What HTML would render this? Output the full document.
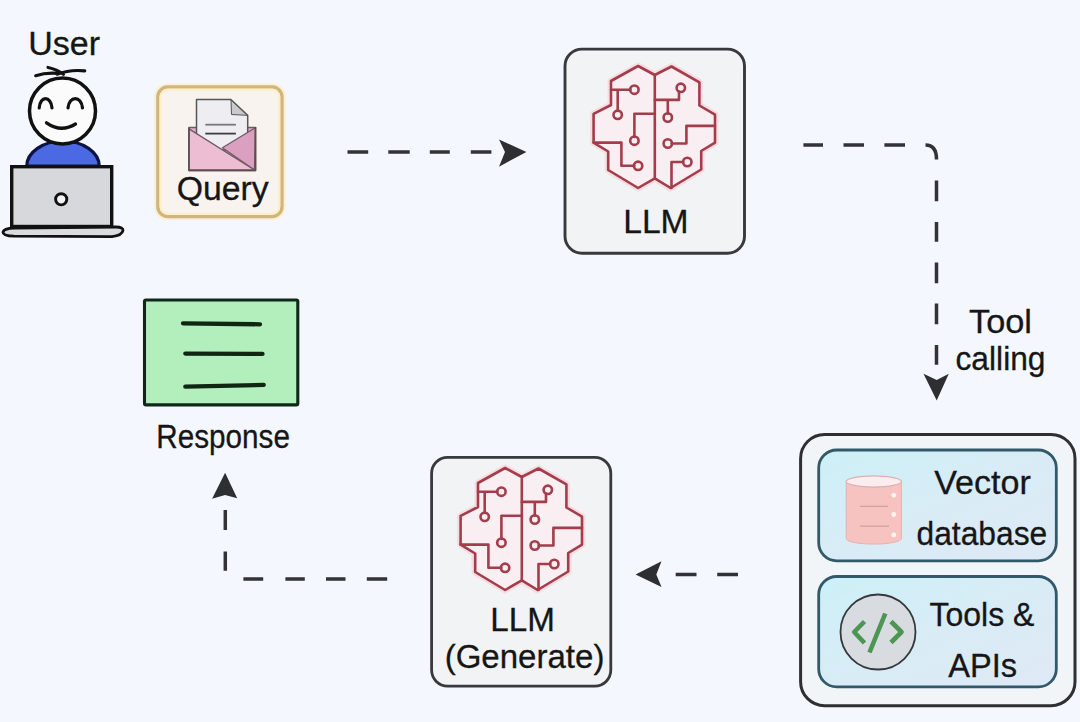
<!DOCTYPE html>
<html><head><meta charset="utf-8">
<style>
html,body{margin:0;padding:0;width:1080px;height:722px;overflow:hidden;background:#f4f7fd;}
svg{position:absolute;left:0;top:0;}
text{font-family:"Liberation Sans",sans-serif;fill:#161616;stroke:#161616;stroke-width:0.3px;}
</style></head><body>
<svg width="1080" height="722" viewBox="0 0 1080 722">
<defs>
  <linearGradient id="ib" x1="0" y1="0" x2="1" y2="1"><stop offset="0" stop-color="#ccf0f7"/><stop offset="0.5" stop-color="#d8ecf6"/><stop offset="1" stop-color="#dfe9f6"/></linearGradient>
  <g id="brain" fill="none" stroke="#a43c4b" stroke-width="2.6" stroke-linejoin="round" stroke-linecap="round">
    <path d="M50.1 6 L66.8 15 L83.5 6.5 L111.4 22.3 L111.4 45.5 L127 54.7 L127 82.6 L113.2 91 L113.2 109.5 L82.6 128 L66.8 118.3 L50.1 128 L20.2 110 L20.2 91.5 L5.6 82.6 L5.6 53.8 L23 45 L23 21 Z" fill="#f9eef1" stroke="#f5dde2" stroke-width="7"/>
    <path d="M50.1 6 L66.8 15 L83.5 6.5 L111.4 22.3 L111.4 45.5 L127 54.7 L127 82.6 L113.2 91 L113.2 109.5 L82.6 128 L66.8 118.3 L50.1 128 L20.2 110 L20.2 91.5 L5.6 82.6 L5.6 53.8 L23 45 L23 21 Z" fill="#f9eef1"/>
    <path d="M66.8 15 L66.8 118.3"/>
    <path d="M23 29.7 H42.3 M29.7 29.7 V50.6"/>
    <circle cx="46.4" cy="29.7" r="4.2"/><circle cx="29.7" cy="54.8" r="4.2"/>
    <path d="M46.4 77 V53.8 H66.8"/>
    <circle cx="46.4" cy="80.7" r="4.2"/>
    <path d="M46.3 105.8 H33.4 V82.6 H5.6"/>
    <circle cx="50.1" cy="105.8" r="4.2"/>
    <path d="M66.8 39.9 H91 V31.6 M79.8 39.9 V53.7"/>
    <circle cx="92.8" cy="27.8" r="4.2"/><circle cx="79.8" cy="57.5" r="4.2"/>
    <path d="M83.6 83.5 H98.4 V65.9 H127"/>
    <circle cx="79.8" cy="83.5" r="4.2"/>
    <path d="M95.1 102 H83.5 V128"/>
    <circle cx="99.3" cy="102" r="4.2"/>
  </g>
</defs>

<!-- USER -->
<text x="28.2" y="55.1" font-size="33" textLength="71.8" lengthAdjust="spacingAndGlyphs">User</text>
<path d="M26.8 166 A36.2 25 0 0 1 99.2 166 Z" fill="#4b69e2" stroke="#0d1445" stroke-width="3.2"/>
<circle cx="62.5" cy="111" r="33" fill="#fbfbfb" stroke="#111" stroke-width="3.5"/>
<path d="M35.7 75.7 Q46 72.3 58 73.4 M48 67.4 Q57 69.3 63.5 74.3 M57 74.2 Q70 69.3 84.8 70.9" fill="none" stroke="#111" stroke-width="3.1" stroke-linecap="round"/>
<path d="M39.2 108 C40 95.5 51 95.5 52 108 M68 108 C69 95.5 81.5 95.5 82.5 108" fill="none" stroke="#111" stroke-width="3.2" stroke-linecap="round"/>
<path d="M46.5 122.8 Q61 133 75.5 124" fill="none" stroke="#111" stroke-width="3.3" stroke-linecap="round"/>
<rect x="11.7" y="166.7" width="100" height="59.8" fill="#d6d8dc" stroke="#111" stroke-width="3.4"/>
<circle cx="61.2" cy="199.3" r="5.6" fill="#f2f2f2" stroke="#111" stroke-width="2.9"/>
<path d="M3 232.2 Q4 228.3 14 228 L116 227 Q123.5 227 123 230.6 Q122 235.6 112 236.6 L14 236.2 Q3 235.8 3 232.2 Z" fill="#d9dbdf" stroke="#111" stroke-width="2.8"/>

<!-- QUERY -->
<rect x="157.8" y="86.9" width="124.2" height="129.7" rx="10" fill="#f8f3ef" stroke="#fbf0cc" stroke-width="7"/>
<rect x="157.8" y="86.9" width="124.2" height="129.7" rx="10" fill="none" stroke="#d2b47f" stroke-width="3.2"/>
<rect x="160.6" y="89.7" width="118.6" height="124.1" rx="7.5" fill="none" stroke="#fbefc6" stroke-width="2"/>
<g stroke-linejoin="round">
<rect x="189" y="127.5" width="66.5" height="43" fill="#e4adc8" stroke="#6d5a62" stroke-width="1.5"/>
<path d="M196.5 99.4 H230.6 L247.7 115.3 V150 H196.5 Z" fill="#eeeef2" stroke="#55565a" stroke-width="1.5"/>
<path d="M231 100 L231.5 114.5 L247 115.3 Z" fill="#c9c9ce" stroke="#55565a" stroke-width="1"/>
<path d="M205.3 124.7 H235.9" stroke="#77787c" stroke-width="1.8"/>
<path d="M205.3 133.6 H235.9" stroke="#3c3d40" stroke-width="1.8"/>
<path d="M255.3 127.7 L222.4 147.7 L254.5 170 Z" fill="#dba0c0" stroke="#6d5a62" stroke-width="1.3"/>
<path d="M189 128.9 L254.5 170 H189 Z" fill="#edbdd4" stroke="#6d5a62" stroke-width="1.3"/>
<path d="M189 127.5 V170.5 H255.5 V127" fill="none" stroke="#5d4c54" stroke-width="1.6"/>
</g>
<text x="176.7" y="199.6" font-size="33" textLength="92.0" lengthAdjust="spacingAndGlyphs">Query</text>

<!-- arrow 1 -->
<path d="M347.5 152 H368.2 M388.3 152 H409.7 M429.8 152 H449.8 M470.8 152 H491.4" stroke="#323337" stroke-width="3.5" fill="none"/>
<path d="M499 139.5 L526.4 152 L499 166.7 L505 152 Z" fill="#2e2f33"/>

<!-- LLM box -->
<rect x="565" y="49.1" width="179.5" height="204.1" rx="17" fill="#f2f3f5" stroke="#38393c" stroke-width="2.9"/>
<use href="#brain" x="588" y="60"/>
<text x="623.2" y="232.6" font-size="33" textLength="65.4" lengthAdjust="spacingAndGlyphs">LLM</text>

<!-- arrow 2 -->
<path d="M803.4 145.1 H823 M843.5 145.1 H864 M884.4 145.1 H905 M925.5 145.1 Q936.5 145.1 936.5 159.5 M936.5 180.5 V201.2 M936.5 222 V241.7 M936.5 262.5 V283.2 M936.5 303.4 V324.2 M936.5 345 V364.8" stroke="#323337" stroke-width="3.5" fill="none"/>
<path d="M923.5 373.8 L936.7 400.5 L948.8 373.8 L936.7 380 Z" fill="#2e2f33"/>
<text x="969.0" y="333.0" font-size="33" textLength="63.0" lengthAdjust="spacingAndGlyphs">Tool</text>
<text x="955.5" y="370.0" font-size="33" textLength="90.0" lengthAdjust="spacingAndGlyphs">calling</text>

<!-- container -->
<rect x="800.6" y="434.5" width="274.4" height="271.2" rx="24" fill="#f1f5f8" stroke="#2e2f33" stroke-width="3"/>
<rect x="818.7" y="450" width="237.6" height="110.8" rx="18" fill="url(#ib)" stroke="#31596a" stroke-width="2.8"/>
<rect x="818.7" y="576.5" width="237.6" height="110.4" rx="18" fill="url(#ib)" stroke="#31596a" stroke-width="2.8"/>
<text x="934.2" y="493.6" font-size="33" textLength="96.7" lengthAdjust="spacingAndGlyphs">Vector</text>
<text x="916.5" y="545.0" font-size="33" textLength="130.8" lengthAdjust="spacingAndGlyphs">database</text>
<text x="929.5" y="625.8" font-size="33" textLength="104.9" lengthAdjust="spacingAndGlyphs">Tools &amp;</text>
<text x="948.3" y="677.3" font-size="33" textLength="68.8" lengthAdjust="spacingAndGlyphs">APIs</text>
<!-- db -->
<path d="M846.2 481.5 V538.5 A27.6 5.6 0 0 0 901.4 538.5 V481.5 Z" fill="#f6c3c1" stroke="#e6b1b0" stroke-width="1"/>
<ellipse cx="873.8" cy="481.5" rx="27.6" ry="5.6" fill="#fbedef" stroke="#dcb0b2" stroke-width="1.2"/>
<path d="M860 506.4 H888 M860 526.2 H889" stroke="#d69e9f" stroke-width="1.3"/>
<circle cx="893.8" cy="495.3" r="2.4" fill="#fff4f4"/><circle cx="893.8" cy="514.5" r="2.4" fill="#fff4f4"/><circle cx="893.8" cy="534.9" r="2.4" fill="#fff4f4"/>
<!-- code icon -->
<circle cx="878" cy="632" r="37.5" fill="#d8dbe0" stroke="#35383c" stroke-width="1.8"/>
<path d="M864.5 621.5 L854.2 632 L864.5 643 M891 621.5 L901.5 632 L891 642.5 M885.3 613.5 L869.5 652.5" fill="none" stroke="#4c9553" stroke-width="4.6" stroke-linecap="butt" stroke-linejoin="round"/>

<!-- arrow 3 -->
<path d="M675.7 574.6 H696.5 M717.2 574.6 H738" stroke="#323337" stroke-width="3.5" fill="none"/>
<path d="M661.5 561.2 L635.6 574.6 L661.5 587.1 L656.3 574.6 Z" fill="#2e2f33"/>

<!-- LLM generate box -->
<rect x="431.6" y="457.3" width="179.2" height="228.8" rx="16" fill="#f2f3f5" stroke="#38393c" stroke-width="2.8"/>
<use href="#brain" x="455" y="462" />
<text x="490.3" y="630.5" font-size="33" textLength="64.6" lengthAdjust="spacingAndGlyphs">LLM</text>
<text x="444.7" y="668.3" font-size="33" textLength="159.7" lengthAdjust="spacingAndGlyphs">(Generate)</text>

<!-- arrow 4 -->
<path d="M243.4 579 H263.2 M285.4 579 H304.8 M326 579 H345.5 M366.8 579 H387.2 M225.3 551.6 V570.8 M225.3 510 V530" stroke="#323337" stroke-width="3.5" fill="none"/>
<path d="M212.1 498.8 L225.1 472.8 L237.2 498.3 L225.1 495 Z" fill="#2e2f33"/>

<!-- response -->
<rect x="144.5" y="300" width="153.3" height="104.9" rx="1.5" fill="#b3efbd" stroke="#10281a" stroke-width="3.1"/>
<path d="M183 323.3 L260 324.3 M185.3 353.6 L262.5 353.9 M185.3 386.7 L263.7 384.9" stroke="#0f2613" stroke-width="4.3" stroke-linecap="round" fill="none"/>
<text x="156.3" y="447.7" font-size="33" textLength="133.6" lengthAdjust="spacingAndGlyphs">Response</text>
</svg>
</body></html>
